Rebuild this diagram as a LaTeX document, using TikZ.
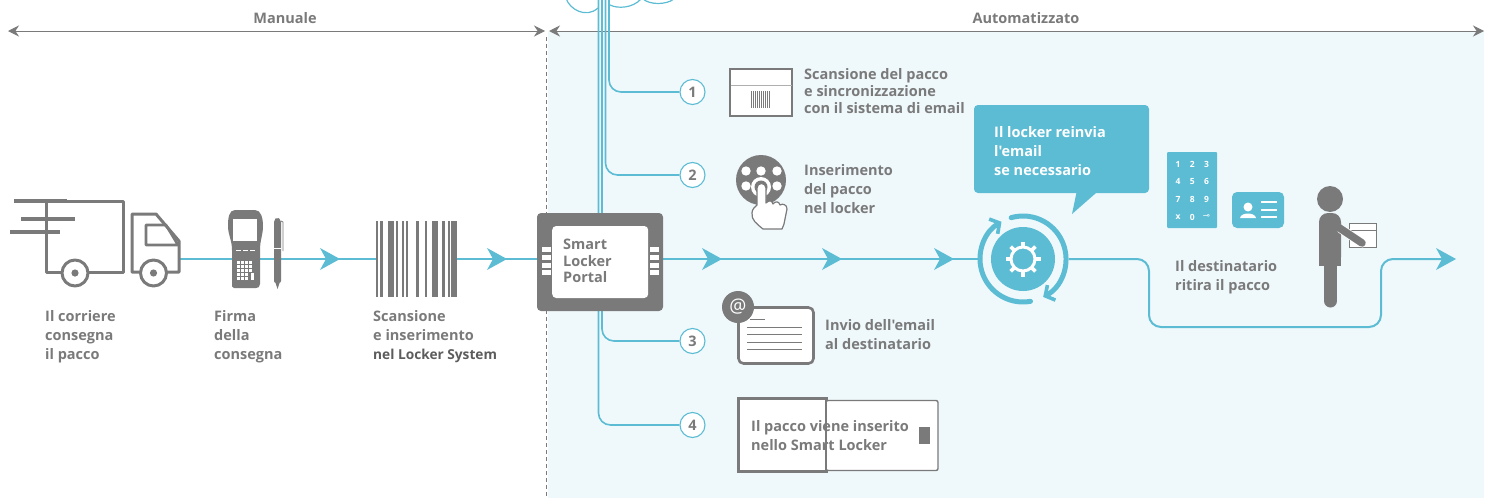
\documentclass[tikz,border=0pt]{standalone}
\usepackage{fontspec}
\setmainfont{Open Sans}[Ligatures=TeXOff]
\usepackage{tikz}
\usetikzlibrary{arrows.meta}
\newfontfamily\symbfont{DejaVu Sans}
\definecolor{lineblue}{HTML}{5CBCD4}
\definecolor{iconGrey}{HTML}{7A7A7A}
\definecolor{bgblue}{HTML}{EFF8FB}
\tikzset{
	caption/.style={anchor=west,align=left,inner sep=0pt,text=iconGrey,font=\fontsize{14.5}{19}\selectfont\bfseries},
	tightcaption/.style={caption,font=\fontsize{14.5}{16.6}\selectfont\bfseries},
	flow/.style={draw=lineblue,line width=2pt,rounded corners=12pt},
	stepline/.style={draw=lineblue,line width=1.6pt,rounded corners=12pt},
	tip/.style={fill=lineblue,draw=none},
	stepnum/.style={circle,draw=lineblue,line width=1.1pt,fill=white,minimum size=25pt,inner sep=0pt,text=iconGrey,font=\fontsize{14.5}{14}\selectfont\bfseries},
	span/.style={draw=iconGrey,line width=1pt,{Stealth[length=11pt,width=11pt]}-{Stealth[length=11pt,width=11pt]}},
	keytext/.style={inner sep=0pt,text=white,font=\fontsize{8.5}{9}\selectfont\bfseries},
	gearbarb/.style={draw=lineblue,line width=5pt,line cap=round,-{Straight Barb[length=7pt,width=17pt,line width=3.6pt]}},
}
\newcommand{\flowtip}[1]{\fill[tip] (#1) +(0,0) -- +(-20,-11) -- +(-14,0) -- +(-20,11) -- cycle;}
\begin{document}
\begin{tikzpicture}[x=1pt,y=-1pt]
	\useasboundingbox (0,0) rectangle (1494,498);
	\clip (0,0) rectangle (1494,498);
	\fill[bgblue] (548,31) rectangle (1484,498);
	\path (8,31) coordinate (man_l);
	\path (545,31) coordinate (man_r);
	\path (549,31) coordinate (aut_l);
	\path (1484,31) coordinate (aut_r);
	\draw[span] (man_l) -- (man_r);
	\draw[span] (aut_l) -- (aut_r);
	\path (285,18) node(manuale) [caption,anchor=center] {Manuale};
	\path (1026,18) node(automatizzato) [caption,anchor=center] {Automatizzato};
	\draw[iconGrey,line width=0.8pt,dash pattern=on 4pt off 3pt] (546.5,37) -- (546.5,498);

	% cloud
	\draw[lineblue,line width=1.2pt] (566,-2) .. controls (569,9) and (586,19) .. (598,8);
	\draw[lineblue,line width=1.2pt] (610,5) .. controls (618,9) and (633,8) .. (641,-1);
	\draw[lineblue,line width=1.2pt] (643,-1) .. controls (650,5) and (666,5) .. (674,-1);

	% main line
	\path (180,259) coordinate (truck_end);
	\path (537,259) coordinate (portal_l);
	\path (663,259) coordinate (portal_r);
	\path (978,259) coordinate (gear_l);
	\path (1069,259) coordinate (gear_r);
	\path (1149,259) coordinate (c1);
	\path (1149,327) coordinate (c2);
	\path (1381,327) coordinate (c3);
	\path (1381,259) coordinate (c4);
	\path (1450,259) coordinate (line_end);
	\draw[flow] (truck_end) -- (portal_l);
	\draw[flow] (portal_r) -- (gear_l);
	\draw[flow] (gear_r) -- (c1) -- (c2) -- (c3) -- (c4) -- (line_end);
	\path (340,259) coordinate (tip1);
	\path (507,259) coordinate (tip2);
	\path (722,259) coordinate (tip3);
	\path (842,259) coordinate (tip4);
	\path (954,259) coordinate (tip5);
	\path (1456,259) coordinate (tip6);
	\foreach \t in {tip1,tip2,tip3,tip4,tip5,tip6} {\flowtip{\t}}

	% step lines
	\path (692.5,92) node(step1) [stepnum] {1};
	\path (692.5,175) node(step2) [stepnum] {2};
	\path (692.5,341) node(step3) [stepnum] {3};
	\path (692.5,425) node(step4) [stepnum] {4};
	\path (609,0) coordinate (s1_top);
	\path (605.5,0) coordinate (s2_top);
	\path (602,0) coordinate (s3_top);
	\path (598.5,0) coordinate (s4_top);
	\draw[stepline] (s1_top) |- (step1);
	\draw[stepline] (s2_top) |- (step2);
	\draw[stepline] (s3_top) |- (step3);
	\draw[stepline] (s4_top) |- (step4);

	% truck
	\begin{scope}[line width=3pt,line join=round]
	\draw[iconGrey] (46,201) -- (46,272) -- (123,272) -- (123,201) -- cycle;
	\draw[iconGrey] (132,272) -- (132,214) -- (156,214) -- (179,241) -- (179,272) -- cycle;
	\draw[iconGrey,line width=2.6pt] (146,245) -- (146,225) -- (166,225) -- (178,245) -- cycle;
	\draw[iconGrey,fill=white] (75,273) circle (13);
	\draw[iconGrey,fill=white] (153.5,273) circle (13);
	\draw[iconGrey,line width=3.6pt] (14,201) -- (67,201);
	\draw[iconGrey,line width=3.6pt] (21,219) -- (75,219);
	\draw[iconGrey,line width=3.6pt] (10,232) -- (60,232);
	\end{scope}
	\fill[iconGrey] (75,273) circle (3.6) (153.5,273) circle (3.6);
	\path (45,337) node(txt_corriere) [caption] {Il corriere\\consegna\\il pacco};
	\path (214,337) node(txt_firma) [caption] {Firma\\della\\consegna};

	% handheld
	\fill[iconGrey] (235,210) -- (255,210) .. controls (261,210) and (263,218) .. (263,226) .. controls (263,235) and (260,240) .. (260,250) -- (260,284) .. controls (260,287) and (258,288) .. (256,288) -- (234,288) .. controls (232,288) and (232,286) .. (232,284) -- (232,250) .. controls (232,240) and (228,235) .. (228,226) .. controls (228,218) and (229,210) .. (235,210) -- cycle;
	\fill[white] (233,219) rectangle (257,240.5);
	\foreach \x in {236,243,250} \fill[white] (\x,249.5) rectangle +(4.5,1.2);
	\foreach \x in {237,241,245} \foreach \y in {261,265,269,273,277} \fill[white] (\x,\y) rectangle +(2.8,2.8);
	\foreach \y in {261,265,269} \fill[white] (249,\y) rectangle +(2.8,2.8);
	\fill[white] (251,273) rectangle +(3,7);
	% pen
	\fill[iconGrey,rounded corners=2pt] (274,220) -- (277,217) -- (281,220) -- (281,283) -- (274,283) -- cycle;
	\fill[iconGrey] (275.5,283) -- (277.5,289) -- (279.5,283) -- cycle;
	\draw[white,line width=0.7pt] (274,248) -- (281,248);
	\draw[iconGrey,line width=0.8pt] (281,221) -- (283,222) -- (283,251);

	% barcode
	\fill[white] (376,219) rectangle (457,299);
	\foreach \x/\w in {376/2,380/3,388/6,396/2,402/2,406/2,416/3,425/2,432/6,442/3,448/2,451/6}
		\fill[iconGrey] (\x,221) rectangle +(\w,76);
	\path (373,337) node(txt_scansione) [caption] {Scansione\\e inserimento\\{\fontsize{13.7}{19}\selectfont\color{iconGrey!75!black}nel Locker System}};

	% portal
	\path (600,262) node(portal) [draw=none,fill=iconGrey,rounded corners=4pt,minimum width=126pt,minimum height=98pt,inner sep=0pt] {};
	\path (600.2,262) node(portal_in) [fill=white,rounded corners=4pt,minimum width=96pt,minimum height=72pt,inner sep=0pt] {};
	\foreach \y in {247,255,263,270} {
		\fill[white] (542,\y) rectangle +(9,5);
		\fill[white] (650,\y) rectangle +(9,5);
	}
	\path (563,261) node(txt_portal) [tightcaption] {Smart\\Locker\\Portal};

	% icon 1
	\path (761,92.5) node(box1) [draw=iconGrey,fill=white,line width=2.6pt,minimum width=62pt,minimum height=47pt,inner sep=0pt] {};
	\draw[iconGrey!60,line width=1pt] (731,85) -- (792,85);
	\foreach \x/\w in {751/1,753/.5,755/1,757/.5,759/1,761/.5,763/.5,765/1,767/.5,769/1}
		\fill[iconGrey] (\x,91) rectangle +(\w,17);
	\path (804,91) node(txt_1) [tightcaption] {Scansione del pacco\\e sincronizzazione\\con il sistema di email};

	% icon 2
	\fill[iconGrey] (761,180) circle (25);
	\foreach \x/\y in {746/171,761/171,777/171,746/186,777/186} \fill[white] (\x,\y) circle (4.7);
	\fill[white] (761,187) circle (10);
	\fill[iconGrey] (761,187) circle (6.5);
	\draw[iconGrey,line width=1.2pt,fill=white,line join=round] (757,205) -- (757,188) .. controls (757,182) and (766,182) .. (766,188) -- (766,203) .. controls (769,200) and (772,200) .. (773,204) .. controls (775,201) and (779,201) .. (780,205) .. controls (783,203) and (787,205) .. (787,209) -- (784,224) -- (782,229) -- (763,229) .. controls (757,224) and (751,220) .. (752,213) .. controls (752,209) and (755,207) .. (757,205) -- cycle;
	\path (804,189) node(txt_2) [caption] {Inserimento\\del pacco\\nel locker};

	% icon 3
	\path (776,335.5) node(mail) [draw=iconGrey,fill=white,line width=2.6pt,rounded corners=5pt,minimum width=75pt,minimum height=56pt,inner sep=0pt] {};
	\draw[iconGrey,line width=1pt] (750,319.5) -- (765,319.5);
	\foreach \y in {327,334,342,349} \draw[iconGrey,line width=1pt] (747,\y) -- (802,\y);
	\path (738,307) node(at_sign) [circle,fill=iconGrey,minimum size=32pt,inner sep=0pt,text=white,font=\fontsize{19}{19}\selectfont] {@};
	\path (825,335) node(txt_3) [caption] {Invio dell'email\\al destinatario};

	% icon 4
	\path (882,435.5) node(locker) [draw=iconGrey,fill=white,line width=1.4pt,rounded corners=2pt,minimum width=112pt,minimum height=70pt,inner sep=0pt] {};
	\fill[white] (737,397) rectangle (826,473);
	\draw[iconGrey,line width=3.4pt] (828,398.7) -- (738.7,398.7) -- (738.7,471.3) -- (828,471.3);
	\draw[iconGrey,line width=1.4pt] (826,398) -- (826,472);
	\fill[iconGrey] (919,427) rectangle (930,444);
	\path (751,436) node(txt_4) [caption] {Il pacco viene inserito\\nello Smart Locker};

	% callout
	\fill[lineblue,rounded corners=4pt] (974,105) -- (1149,105) -- (1149,193) -- (974,193) -- cycle;
	\fill[lineblue] (1077,190) -- (1072,214) -- (1096,193) -- (1096,190) -- cycle;
	\path (994,151) node(txt_call) [caption,text=white] {Il locker reinvia\\l'email\\se necessario};

	% gear
	\path (1023,259) node(gear) [circle,fill=lineblue,minimum size=64pt,inner sep=0pt] {};
	\draw[white,line width=3pt] (gear) circle (12);
	\foreach \a in {0,45,...,315} \draw[white,line width=3.6pt] (gear) ++(\a:12) -- ++(\a:5.5);
	\draw[gearbarb] (gear) ++(-106:43) arc[start angle=-106,end angle=62,radius=43];
	\draw[gearbarb] (gear) ++(80:43) arc[start angle=80,end angle=240,radius=43];

	% keypad
	\fill[lineblue,rounded corners=1pt] (1167,152) rectangle (1217,228);
	\foreach \lab [count=\i from 0] in {1,2,3,4,5,6,7,8,9,x,0}
		\path ({1178+14.3*mod(\i,3)},{164+17.7*int(\i/3)}) node(key\i) [keytext] {\lab};
	\path (1206.5,217) node(key11) [keytext,font=\fontsize{8.5}{9}\symbfont] {⊸};

	% id card
	\fill[lineblue,rounded corners=5pt] (1232,192) rectangle (1284,228);
	\fill[white] (1248,207) circle (4.5);
	\fill[white] (1240,218) .. controls (1241,212) and (1255,212) .. (1256,218) -- cycle;
	\foreach \y in {202,210,217} \draw[white,line width=1.6pt] (1261,\y) -- (1277,\y);
	\path (1175,277) node(txt_dest) [caption] {Il destinatario\\ritira il pacco};

	% person
	\draw[iconGrey,line width=0.9pt,fill=white] (1349.5,223) rectangle (1376,247.5);
	\draw[iconGrey,line width=0.9pt] (1349.5,230) -- (1376,230);
	\fill[iconGrey] (1330,199) circle (13);
	\fill[iconGrey,rounded corners=9pt] (1319,266) -- (1319,213) -- (1341,213) -- (1341,266) -- cycle;
	\fill[iconGrey] (1319,255) rectangle (1341,266);
	\draw[iconGrey,line width=13pt,line cap=round] (1330.5,264) -- (1330.5,301);
	\draw[white,line width=9pt,line cap=round] (1341,229) -- (1362,243);
	\draw[iconGrey,line width=7.5pt,line cap=round] (1338,227) -- (1362,243);
\end{tikzpicture}
\end{document}
